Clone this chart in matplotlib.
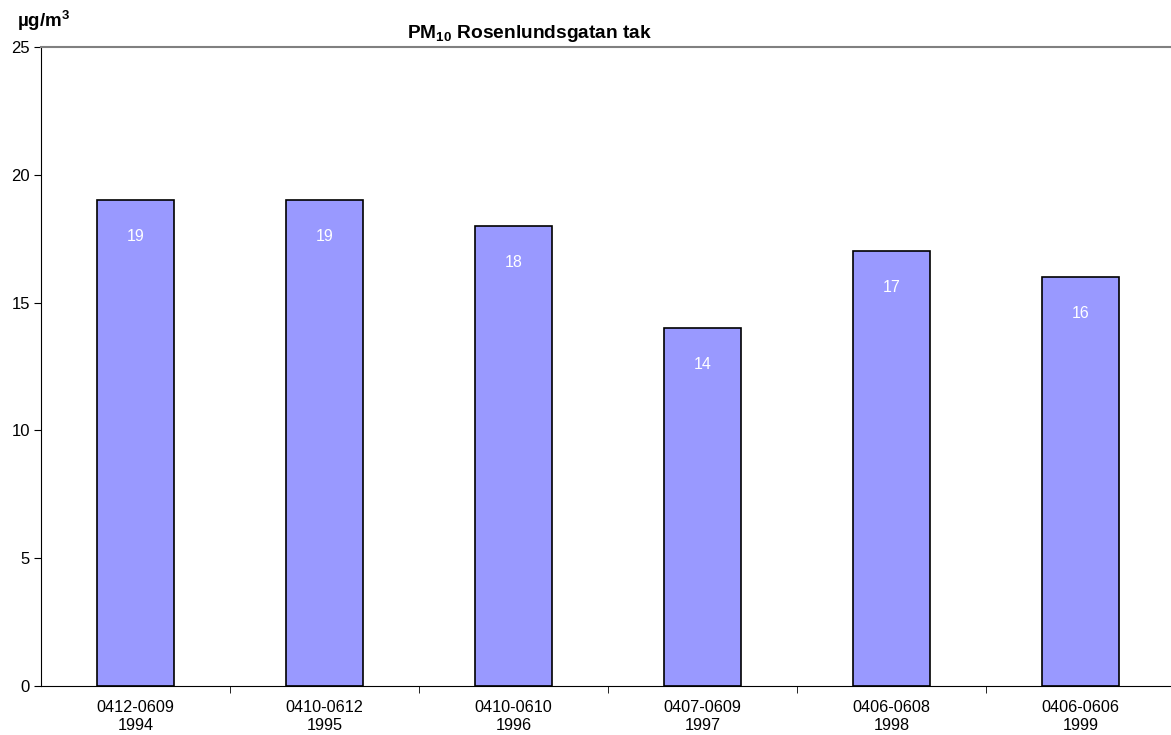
import numpy as np
import matplotlib.pyplot as plt

periods = ["0412-0609", "0410-0612", "0410-0610", "0407-0609", "0406-0608", "0406-0606"]
years = ["1994", "1995", "1996", "1997", "1998", "1999"]
pm10 = [19, 19, 18, 14, 17, 16]

plt.rcParams['font.family'] = ['Liberation Sans', 'DejaVu Sans']
plt.rcParams['mathtext.fontset'] = 'custom'
plt.rcParams['mathtext.rm'] = 'Liberation Sans'
plt.rcParams['mathtext.bf'] = 'Liberation Sans:bold'

fig = plt.figure(figsize=(11.71, 7.35), dpi=100)
ax = fig.add_axes([41/1171, 49/735, 1134/1171, 639/735])

x = np.arange(len(pm10))
bars = ax.bar(x, pm10, width=0.41, color='#9999FF', edgecolor='black', linewidth=1.2)

for xi, v in zip(x, pm10):
    ax.text(xi, v - 1.42, str(v), ha='center', va='center', color='white', fontsize=11.5)

ax.set_xlim(-0.5, len(pm10) - 0.5)
ax.set_ylim(0, 25)
ax.set_yticks(range(0, 26, 5))
ax.tick_params(axis='y', direction='out', length=5, labelsize=12, pad=3)

ax.set_xticks(x)
ax.set_xticklabels([f"{p}\n{y}" for p, y in zip(periods, years)], fontsize=11.7, linespacing=1.25)
ax.tick_params(axis='x', which='major', length=0, pad=10)
ax.set_xticks(np.arange(0.5, len(pm10) - 0.5), minor=True)
ax.tick_params(axis='x', which='minor', direction='out', length=5)

ax.spines['top'].set_color('#808080')
ax.spines['top'].set_linewidth(1.5)
ax.spines['right'].set_visible(False)

fig.text(530/1171, 1 - 34/735, r"PM$_{\mathbf{10}}$ Rosenlundsgatan tak", ha='center', va='center',
         fontsize=13.8, fontweight='bold')
fig.text(17/1171, 1 - 21/735, r"µg/m$^{\mathbf{3}}$", ha='left', va='center',
         fontsize=13.5, fontweight='bold')

fig.savefig("out.png", dpi=100)
